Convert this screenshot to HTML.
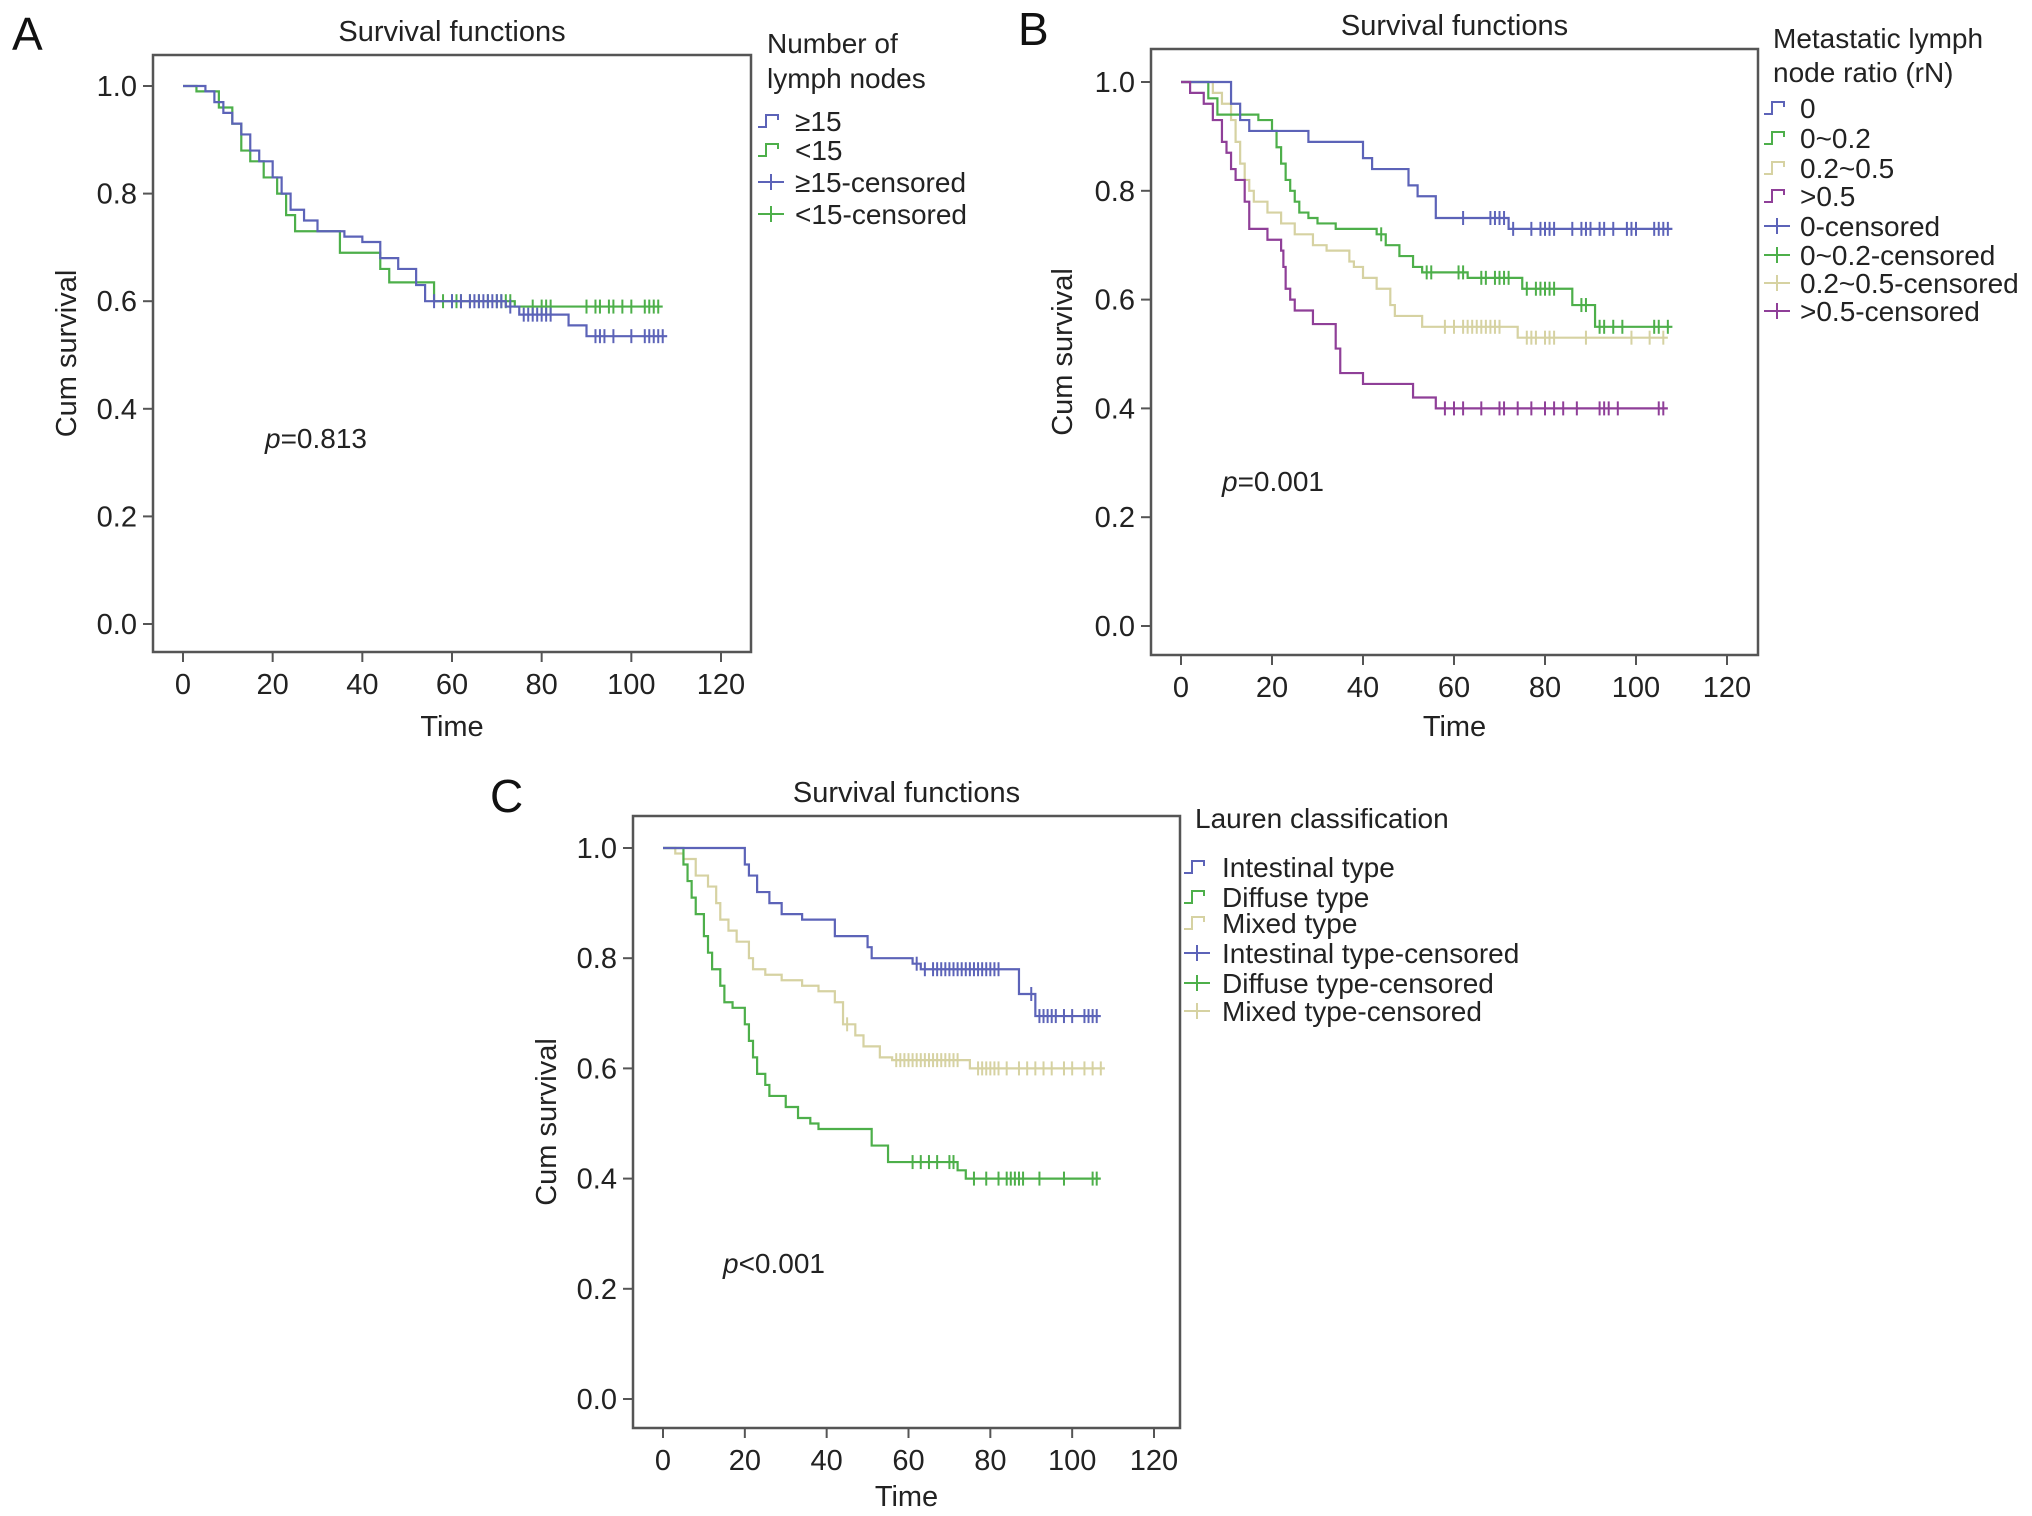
<!DOCTYPE html>
<html><head><meta charset="utf-8"><style>
html,body{margin:0;padding:0;background:#fff;}
svg{display:block;font-family:"Liberation Sans",sans-serif;}
</style></head><body>
<svg id="fig" width="2032" height="1516" viewBox="0 0 2032 1516" xmlns="http://www.w3.org/2000/svg"></svg>
<script>
// ---- data (time, survival) step points; start at (0,1) ----
const xTicks = [0,20,40,60,80,100,120];
const yTicks = [0.0,0.2,0.4,0.6,0.8,1.0];
// Panel A
const aGe15Steps = [[5,0.99],[7,0.97],[9,0.95],[11,0.93],[13,0.91],[15,0.88],[17,0.86],[20,0.83],[22,0.80],[24,0.77],[27,0.75],[30,0.73],[36,0.72],[40,0.71],[44,0.68],[48,0.66],[52,0.63],[54,0.60],[72,0.59],[75,0.575],[86,0.555],[90,0.535]];
const aGe15End = 108;
const aGe15Cens = [56,60,62,64,65,66,67,68,69,70,71,73,76,77,78,79,80,81,82,92,93,94,96,100,103,104,105,106,107];
const aLt15Steps = [[3,0.99],[8,0.96],[11,0.93],[13,0.88],[15,0.86],[18,0.83],[21,0.80],[23,0.76],[25,0.73],[35,0.69],[44,0.66],[46,0.635],[56,0.60],[74,0.59]];
const aLt15End = 107;
const aLt15Cens = [58,60,61,62,64,66,68,70,71,72,73,78,80,81,82,90,92,93,95,96,98,100,103,104,105,106];
// Panel B
const b0Steps = [[11,0.96],[13,0.93],[15,0.91],[28,0.89],[40,0.86],[42,0.84],[50,0.81],[52,0.79],[56,0.75],[72,0.73]];
const b0End = 108;
const b0Cens = [62,68,69,70,71,73,77,79,80,81,82,86,88,89,90,92,93,95,98,99,100,104,105,106,107];
const b02Steps = [[6,0.97],[8,0.94],[17,0.93],[20,0.91],[21,0.88],[22,0.85],[23,0.82],[24,0.80],[25,0.78],[26,0.76],[28,0.75],[30,0.74],[34,0.73],[43,0.72],[45,0.70],[48,0.68],[51,0.66],[53,0.65],[63,0.64],[75,0.62],[86,0.59],[91,0.55]];
const b02End = 108;
const b02Cens = [44,54,55,61,62,66,67,69,70,71,72,76,78,79,80,81,82,88,89,92,93,95,97,104,105,107];
const b25Steps = [[7,0.98],[9,0.96],[11,0.93],[12,0.89],[13,0.85],[14,0.82],[15,0.80],[16,0.78],[19,0.76],[22,0.74],[25,0.72],[29,0.70],[32,0.69],[37,0.67],[38,0.66],[40,0.64],[43,0.62],[46,0.59],[47,0.57],[53,0.55],[74,0.53]];
const b25End = 107;
const b25Cens = [58,60,62,63,64,65,66,67,68,69,70,76,77,78,80,81,82,89,99,103,106];
const b5Steps = [[2,0.98],[5,0.96],[7,0.93],[9,0.89],[10,0.87],[11,0.84],[12,0.82],[14,0.78],[15,0.73],[19,0.71],[22,0.69],[22.5,0.66],[23,0.62],[24,0.60],[25,0.58],[29,0.555],[34,0.51],[35,0.465],[40,0.445],[51,0.42],[56,0.40]];
const b5End = 107;
const b5Cens = [58,60,62,66,70,71,74,77,80,82,84,87,92,93,94,96,105,106];
// Panel C
const cIntSteps = [[20,0.97],[21,0.95],[23,0.92],[26,0.90],[29,0.88],[34,0.87],[42,0.84],[50,0.82],[51,0.80],[61,0.79],[63,0.78],[87,0.735],[91,0.695]];
const cIntEnd = 107;
const cIntCens = [62,64,66,67,68,69,70,71,72,73,74,75,76,77,78,79,80,81,82,90,92,93,94,95,96,98,100,103,104,105,106];
const cDifSteps = [[5,0.97],[6,0.94],[7,0.91],[8,0.88],[10,0.84],[11,0.81],[12,0.78],[14,0.75],[15,0.72],[17,0.71],[20,0.68],[21,0.65],[22,0.62],[23,0.59],[25,0.57],[26,0.55],[30,0.53],[33,0.51],[36,0.50],[38,0.49],[51,0.46],[55,0.43],[72,0.415],[74,0.40]];
const cDifEnd = 107;
const cDifCens = [61,63,65,67,70,71,76,79,82,84,85,86,87,88,92,98,105,106];
const cMixSteps = [[3,0.99],[5,0.98],[8,0.95],[11,0.93],[13,0.90],[14,0.87],[16,0.85],[18,0.83],[21,0.80],[22,0.78],[25,0.77],[29,0.76],[34,0.75],[38,0.74],[42,0.72],[44,0.68],[47,0.66],[49,0.64],[53,0.62],[56,0.615],[75,0.60]];
const cMixEnd = 108;
const cMixCens = [45,57,58,59,60,61,62,63,64,65,66,67,68,69,70,71,72,77,78,79,80,81,82,84,87,89,91,93,95,98,100,103,105,107];

const BLUE="#5c63b8", GREEN="#4daf4a", TAN="#d6d2a2", PURPLE="#8f3f98";
const NS="http://www.w3.org/2000/svg";
const svg=document.getElementById('fig');
function mk(tag,attrs,parent,text){const e=document.createElementNS(NS,tag);for(const k in attrs)e.setAttribute(k,attrs[k]);if(text!==undefined)e.textContent=text;(parent||svg).appendChild(e);return e;}

function drawPanel(P){
  const g=mk('g',{});
  
  
  const sx=t=>P.x0+(P.x120-P.x0)*t/120;
  const sy=v=>P.y0+(P.y1-P.y0)*v;
  const box=mk('rect',{x:P.bl,y:P.bt,width:P.br-P.bl,height:P.bb-P.bt,fill:'none',stroke:'#555','stroke-width':2.5},g);
  
  
  yTicks.forEach(v=>{
    mk('line',{x1:P.bl-10,x2:P.bl,y1:sy(v),y2:sy(v),stroke:'#555','stroke-width':2},g);
    const t=mk('text',{x:P.bl-16,y:sy(v)+10,'text-anchor':'end','font-size':29,fill:'#222'},g,v.toFixed(1));
    
    
  });
  xTicks.forEach(v=>{
    mk('line',{x1:sx(v),x2:sx(v),y1:P.bb,y2:P.bb+10,stroke:'#555','stroke-width':2},g);
    const t=mk('text',{x:sx(v),y:P.bb+42,'text-anchor':'middle','font-size':29,fill:'#222'},g,String(v));
    
    
  });
  const ti=mk('text',{x:(P.bl+P.br)/2,y:P.bt-14,'text-anchor':'middle','font-size':29,fill:'#222'},g,'Survival functions');
  
  
  const xl=mk('text',{x:(P.bl+P.br)/2,y:P.xlabY,'text-anchor':'middle','font-size':29,fill:'#222'},g,'Time');
  
  
  const yc=(P.bt+P.bb)/2;
  const yl=mk('text',{x:P.ylabX,y:yc,'text-anchor':'middle','font-size':29,fill:'#222',transform:`rotate(-90 ${P.ylabX} ${yc})`},g,'Cum survival');
  
  
  const pl=mk('text',{x:P.px,y:P.py,'font-size':28,fill:'#222'},g);
  
  
  mk('tspan',{'font-style':'italic'},pl,'p');
  mk('tspan',{},pl,P.ptext);
  const lab=mk('text',{x:P.lx,y:P.ly,'font-size':46,fill:'#111'},g,P.letter);
  
  
  P.series.forEach(s=>{
    let d=`M${sx(0)},${sy(1)}`;
    s.steps.forEach(([t,v])=>{d+=` H${sx(t)} V${sy(v)}`;});
    d+=` H${sx(s.end)}`;
    const p=mk('path',{d:d,fill:'none',stroke:s.color,'stroke-width':2.2},g);
    
    
    s.cens.forEach(t=>{
      let v=1;s.steps.forEach(([tt,vv])=>{if(tt<=t)v=vv;});
      const c=mk('path',{d:`M${sx(t)},${sy(v)-7} V${sy(v)+7}`,stroke:s.color,'stroke-width':2},g);
      
      
    });
  });
  P.legTitle.forEach((ln,i)=>{
    const t=mk('text',{x:P.legTx,y:P.legTy[i],'font-size':28,fill:'#222'},g,ln);
    
    
  });
  P.legend.forEach((e,i)=>{
    const y=P.legY[i];
    const lg=mk('g',{},g);
    
    
    const x=P.symX;
    if(e.cens){
      mk('path',{d:`M${x},${y} H${x+26} M${x+13},${y-8} V${y+8}`,stroke:e.color,'stroke-width':2,fill:'none'},lg);
    } else {
      mk('path',{d:`M${x},${y+6} H${x+8} V${y-6} H${x+20} V${y-1}`,stroke:e.color,'stroke-width':2,fill:'none'},lg);
    }
    mk('text',{x:P.legTextX,y:y+10,'font-size':28,fill:'#222'},lg,e.label);
  });
}

drawPanel({name:'panel-a',letter:'A',lx:12,ly:50,bl:153,br:751,bt:55,bb:652,x0:183,x120:721,y1:86,y0:624,
  xlabY:736,ylabX:76,px:265,py:448,ptext:'=0.813',
  series:[{steps:aLt15Steps,end:aLt15End,cens:aLt15Cens,color:GREEN},{steps:aGe15Steps,end:aGe15End,cens:aGe15Cens,color:BLUE}],
  legTitle:['Number of','lymph nodes'],legTx:767,legTy:[53,88],
  symX:758,legTextX:795,legY:[121,150,182,214],
  legend:[{label:'≥15',color:BLUE},{label:'<15',color:GREEN},{label:'≥15-censored',color:BLUE,cens:1},{label:'<15-censored',color:GREEN,cens:1}]});

drawPanel({name:'panel-b',letter:'B',lx:1018,ly:45,bl:1151,br:1758,bt:49,bb:655,x0:1181,x120:1727,y1:82,y0:626,
  xlabY:736,ylabX:1072,px:1222,py:491,ptext:'=0.001',
  series:[{steps:b25Steps,end:b25End,cens:b25Cens,color:TAN},{steps:b02Steps,end:b02End,cens:b02Cens,color:GREEN},{steps:b0Steps,end:b0End,cens:b0Cens,color:BLUE},{steps:b5Steps,end:b5End,cens:b5Cens,color:PURPLE}],
  legTitle:['Metastatic lymph','node ratio (rN)'],legTx:1773,legTy:[48,82],
  symX:1764,legTextX:1800,legY:[108,138,168,196,226,255,283,311],
  legend:[{label:'0',color:BLUE},{label:'0~0.2',color:GREEN},{label:'0.2~0.5',color:TAN},{label:'>0.5',color:PURPLE},
    {label:'0-censored',color:BLUE,cens:1},{label:'0~0.2-censored',color:GREEN,cens:1},{label:'0.2~0.5-censored',color:TAN,cens:1},{label:'>0.5-censored',color:PURPLE,cens:1}]});

drawPanel({name:'panel-c',letter:'C',lx:490,ly:812,bl:633,br:1180,bt:816,bb:1428,x0:663,x120:1154,y1:848,y0:1399,
  xlabY:1506,ylabX:556,px:723,py:1273,ptext:'<0.001',
  series:[{steps:cMixSteps,end:cMixEnd,cens:cMixCens,color:TAN},{steps:cDifSteps,end:cDifEnd,cens:cDifCens,color:GREEN},{steps:cIntSteps,end:cIntEnd,cens:cIntCens,color:BLUE}],
  legTitle:['Lauren classification'],legTx:1195,legTy:[828],
  symX:1184,legTextX:1222,legY:[867,897,923,953,983,1011],
  legend:[{label:'Intestinal type',color:BLUE},{label:'Diffuse type',color:GREEN},{label:'Mixed type',color:TAN},
    {label:'Intestinal type-censored',color:BLUE,cens:1},{label:'Diffuse type-censored',color:GREEN,cens:1},{label:'Mixed type-censored',color:TAN,cens:1}]});
</script>
</body></html>
